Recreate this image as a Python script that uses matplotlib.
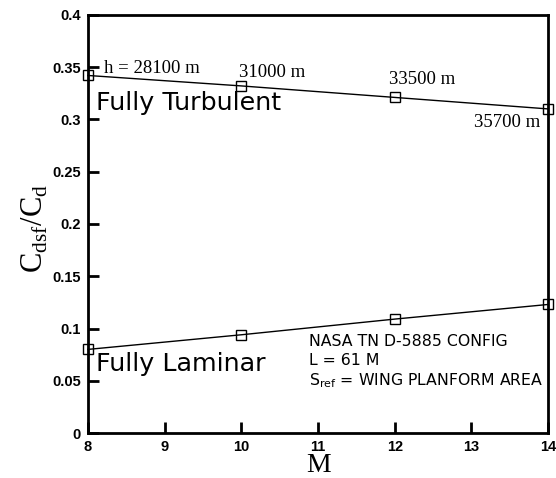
import numpy as np
import matplotlib.pyplot as plt

# Mach numbers and skin-friction drag fraction
mach = [8, 10, 12, 14]
turbulent = [0.342, 0.332, 0.321, 0.310]
laminar = [0.080, 0.094, 0.109, 0.123]
altitudes = ["h = 28100 m", "31000 m", "33500 m", "35700 m"]

fig = plt.figure(figsize=(5.56, 4.78), dpi=100)
ax = fig.add_axes([0.158, 0.094, 0.828, 0.875])

for series in (turbulent, laminar):
    ax.plot(mach, series, color='black', lw=1.0, marker='s', markersize=7,
            markerfacecolor='none', markeredgecolor='black', markeredgewidth=1.0,
            clip_on=False, zorder=3)

ax.set_xlim(8, 14)
ax.set_ylim(0, 0.4)
ax.set_xticks(np.arange(8, 15, 1))
ax.set_yticks(np.arange(0, 0.41, 0.05))
ax.set_yticklabels(['0', '0.05', '0.1', '0.15', '0.2', '0.25', '0.3', '0.35', '0.4'])

for s in ax.spines.values():
    s.set_linewidth(2.0)
ax.tick_params(direction='in', length=8, width=2, labelsize=10.5, pad=5)
for lab in ax.get_xticklabels() + ax.get_yticklabels():
    lab.set_fontweight('bold')
    lab.set_family('Liberation Sans')

serif = 'Liberation Serif'
# altitude labels on the turbulent curve
ax.text(8.21, turbulent[0] + 0.007, altitudes[0], family=serif, fontsize=13.5, va='center')
ax.text(9.97, turbulent[1] + 0.013, altitudes[1], family=serif, fontsize=13.5, va='center')
ax.text(11.93, turbulent[2] + 0.017, altitudes[2], family=serif, fontsize=13.5, va='center')
ax.text(13.9, turbulent[3] - 0.013, altitudes[3], family=serif, fontsize=13.5,
        va='center', ha='right')

ax.text(8.1, 0.316, "Fully Turbulent", fontsize=18.3, va='center')
ax.text(8.1, 0.066, "Fully Laminar", fontsize=18.3, va='center')

ax.text(10.88, 0.088, "NASA TN D-5885 CONFIG", fontsize=11.3, va='center')
ax.text(10.88, 0.069, "L = 61 M", fontsize=11.3, va='center')
ax.text(10.88, 0.050, r"S$_{\mathregular{ref}}$ = WING PLANFORM AREA", fontsize=11.3, va='center')

ax.set_xlabel("M", family=serif, fontsize=20)
ax.xaxis.set_label_coords(0.5, -0.092)
ax.xaxis.label.set_verticalalignment('baseline')
ax.set_ylabel(r"C$_{\mathregular{dsf}}$/C$_{\mathregular{d}}$", family=serif, fontsize=22)
ax.yaxis.set_label_coords(-0.082, 0.49)

fig.savefig("out.png", dpi=100)
